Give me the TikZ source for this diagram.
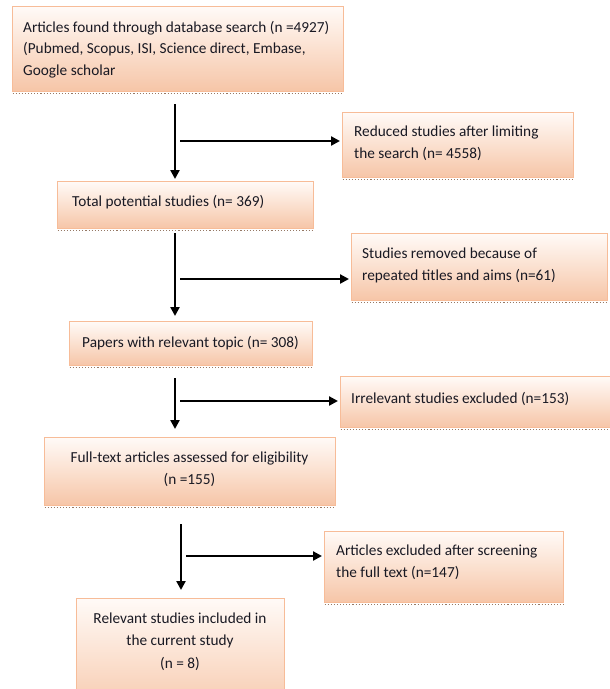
\documentclass[tikz,border=0pt]{standalone}
\usepackage{fontspec}
\setmainfont{Carlito}
\usetikzlibrary{arrows.meta,calc}
\definecolor{boxtop}{RGB}{255,250,247}
\definecolor{boxmid}{RGB}{251,224,207}
\definecolor{boxbot}{RGB}{246,197,167}
\definecolor{boxedge}{RGB}{247,188,152}
\definecolor{shadowc}{RGB}{150,120,100}
\definecolor{txtc}{RGB}{25,25,35}
\tikzset{
  box/.style={draw=boxedge, line width=1.2pt, top color=boxtop, bottom color=boxbot, middle color=boxmid, inner sep=0pt, anchor=north west},
  txt/.style={text=txtc, font=\fontsize{15.3}{21.5}\selectfont, inner sep=0pt},
  ltxt/.style={txt, align=left, anchor=base west},
  ctxt/.style={txt, align=center, anchor=base},
  arr/.style={line width=2.5pt, -{Triangle[length=9pt,width=9pt]}},
  shd/.style={shadowc, line width=1.1pt, dotted}
}
\newcommand{\mybox}[5]{% name, x1, y1, x2, y2
  \node[box, minimum width={#4-#2}, minimum height={#5-#3}] (#1) at (#2,-#3) {};
  \draw[shd] ($(#1.south west)+(0.5,-1.2)$) -- ($(#1.south east)+(-0.5,-1.2)$);
}
\begin{document}
\begin{tikzpicture}[x=1pt,y=1pt]
\useasboundingbox (0,0) rectangle (610,-689);
\clip (0,0) rectangle (610,-689);
\fill[white] (0,0) rectangle (610,-689);

% text anchors give the baseline of the LAST line
\mybox{b1}{12}{6}{343}{91}
\node[ltxt] (t1) at (23,-75) {Articles found through database search (n =4927)\\(Pubmed, Scopus, ISI, Science direct, Embase,\\Google scholar};

\mybox{b2}{342}{112}{573}{177}
\node[ltxt] (t2) at (354,-158) {Reduced studies after limiting\\the search (n= 4558)};

\mybox{b3}{57}{181}{313}{228}
\node[ltxt] (t3) at (72,-206) {Total potential studies (n= 369)};

\mybox{b4}{351}{233}{607}{300}
\node[ltxt] (t4) at (362,-280) {Studies removed because of\\repeated titles and aims (n=61)};

\mybox{b5}{69}{321}{312}{365}
\node[ctxt] (t5) at (190.5,-347) {Papers with relevant topic (n= 308)};

\mybox{b6}{340}{376}{640}{427}
\node[ltxt] (t6) at (351,-403) {Irrelevant studies excluded (n=153)};

\mybox{b7}{44}{437}{335}{505}
\node[ctxt] (t7) at (189.5,-484) {Full-text articles assessed for eligibility\\(n =155)};

\mybox{b8}{324}{531}{563}{602}
\node[ltxt] (t8) at (336,-577) {Articles excluded after screening\\the full text (n=147)};

\mybox{b9}{76}{598}{284}{720}
\node[ctxt, font=\fontsize{15.3}{22.5}\selectfont] (t9) at (180,-668) {Relevant studies included in\\the current study\\(n = 8)};

% arrows
\coordinate (a1) at (175,-104);
\draw[arr, shorten >=2pt] (a1) -- (a1 |- b3.north);
\coordinate (h1) at (180,-141);
\draw[arr, shorten >=2pt] (h1) -- (h1 -| b2.west);

\coordinate (a2) at (175,-233);
\draw[arr, shorten >=5pt] (a2) -- (a2 |- b5.north);
\coordinate (h2) at (180,-279);
\draw[arr, shorten >=2pt] (h2) -- (h2 -| b4.west);

\coordinate (a3) at (175,-378);
\draw[arr, shorten >=8pt] (a3) -- (a3 |- b7.north);
\coordinate (h3) at (180,-401);
\draw[arr, shorten >=2pt] (h3) -- (h3 -| b6.west);

\coordinate (a4) at (181,-524);
\draw[arr, shorten >=8pt] (a4) -- (a4 |- b9.north);
\coordinate (h4) at (186,-556);
\draw[arr, shorten >=2pt] (h4) -- (h4 -| b8.west);
\end{tikzpicture}
\end{document}
